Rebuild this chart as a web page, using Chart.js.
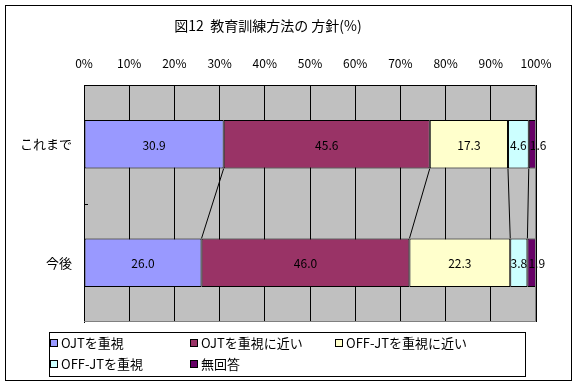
<!DOCTYPE html>
<html><head><meta charset="utf-8">
<script src="https://cdn.jsdelivr.net/npm/chart.js@4/dist/chart.umd.min.js"></script>
<style>html,body{margin:0;padding:0;background:#fff}canvas{display:block}</style>
</head><body>
<canvas id="c" width="578" height="386"></canvas>
<script>
const titleText = '図12  教育訓練方法の 方針(%)';
const categories = ['これまで', '今後'];
const seriesNames = ['OJTを重視', 'OJTを重視に近い', 'OFF-JTを重視に近い', 'OFF-JTを重視', '無回答'];
const seriesColors = ['#9999FF', '#993366', '#FFFFCC', '#CCFFFF', '#660066'];
const ojtJushi = [30.9, 26.0];
const ojtChikai = [45.6, 46.0];
const offChikai = [17.3, 22.3];
const offJushi = [4.6, 3.8];
const mukaito = [1.6, 1.9];
const seriesValues = [ojtJushi, ojtChikai, offChikai, offJushi, mukaito];
const xTicks = [0, 10, 20, 30, 40, 50, 60, 70, 80, 90, 100];

const FONT = "'Noto Sans CJK JP', sans-serif";

const bgPlugin = {
  id: 'bg',
  beforeDraw(chart) {
    const {ctx, chartArea: a} = chart;
    ctx.save();
    ctx.fillStyle = '#fff';
    ctx.fillRect(0, 0, chart.width, chart.height);
    ctx.fillStyle = '#C0C0C0';
    ctx.fillRect(a.left, a.top, a.right - a.left, a.bottom - a.top);
    ctx.restore();
  },
  afterDraw(chart) {
    const {ctx, chartArea: a} = chart;
    ctx.save();
    ctx.strokeStyle = '#808080';
    ctx.lineWidth = 1;
    ctx.beginPath();
    ctx.moveTo(a.right - 0.5, a.top);
    ctx.lineTo(a.right - 0.5, a.bottom - 0.5);
    ctx.lineTo(a.left, a.bottom - 0.5);
    ctx.stroke();
    const ys = chart.scales.y;
    const yMid = (ys.getPixelForValue(0) + ys.getPixelForValue(1)) / 2;
    ctx.strokeStyle = '#000';
    ctx.beginPath();
    ctx.moveTo(a.left, Math.round(yMid) + 0.5);
    ctx.lineTo(a.left + 4, Math.round(yMid) + 0.5);
    ctx.stroke();
    ctx.strokeRect(5.5, 5.5, 566, 375);
    ctx.strokeRect(49.5, 332.5, 476, 44);
    const cols = [50, 190, 335];
    const rows = [343, 364];
    ctx.font = '13px ' + FONT;
    ctx.textBaseline = 'middle';
    ctx.textAlign = 'left';
    seriesNames.forEach((name, i) => {
      const cx = cols[i % 3], cy = rows[Math.floor(i / 3)];
      ctx.fillStyle = seriesColors[i];
      ctx.fillRect(cx + 0.5, cy - 3.5, 7, 7);
      ctx.strokeStyle = '#000';
      ctx.strokeRect(cx + 0.5, cy - 3.5, 7, 7);
      ctx.fillStyle = '#000';
      ctx.fillText(name, cx + 11, cy + 0.5);
    });
    ctx.restore();
  }
};

const seriesLinePlugin = {
  id: 'serieslines',
  afterDatasetsDraw(chart) {
    const ctx = chart.ctx;
    ctx.save();
    ctx.strokeStyle = '#000';
    ctx.lineWidth = 1;
    for (let d = 0; d < chart.data.datasets.length - 1; d++) {
      const els = chart.getDatasetMeta(d).data;
      const top = els[0], bot = els[1];
      ctx.beginPath();
      ctx.moveTo(top.x, top.y + top.height / 2);
      ctx.lineTo(bot.x, bot.y - bot.height / 2);
      ctx.stroke();
    }
    ctx.fillStyle = '#000';
    ctx.font = '12px ' + FONT;
    ctx.textBaseline = 'middle';
    chart.data.datasets.forEach((ds, d) => {
      chart.getDatasetMeta(d).data.forEach((el, i) => {
        const txt = ds.data[i].toFixed(1);
        const w = ctx.measureText(txt).width;
        const bw = Math.abs(el.x - el.base);
        if (w > bw) {
          ctx.textAlign = 'left';
          ctx.fillText(txt, Math.min(el.x, el.base) + 1, el.y + 1);
        } else {
          ctx.textAlign = 'center';
          ctx.fillText(txt, (el.x + el.base) / 2, el.y + 1);
        }
      });
    });
    ctx.restore();
  }
};

new Chart(document.getElementById('c'), {
  type: 'bar',
  data: {
    labels: categories,
    datasets: seriesNames.map((n, i) => ({
      label: n,
      data: seriesValues[i],
      backgroundColor: seriesColors[i],
      borderColor: '#000',
      borderWidth: 1,
      borderSkipped: false,
      barPercentage: 0.41,
      categoryPercentage: 1
    }))
  },
  options: {
    indexAxis: 'y',
    responsive: false,
    animation: false,
    devicePixelRatio: 1,
    layout: { padding: { left: 0, top: 0, right: 42, bottom: 64 } },
    plugins: {
      legend: { display: false },
      tooltip: { enabled: false },
      title: {
        display: true,
        text: titleText,
        color: '#000',
        font: { family: FONT, size: 14, weight: 'normal', lineHeight: 1.2 },
        padding: { top: 17, bottom: 0 }
      }
    },
    scales: {
      x: {
        type: 'linear',
        position: 'top',
        stacked: true,
        min: 0, max: 100,
        afterBuildTicks(scale) { scale.ticks = xTicks.map(v => ({ value: v })); },
        afterFit(scale) { scale.height = 85 - 33.8; },
        ticks: {
          color: '#000',
          padding: 14,
          font: { family: FONT, size: 12 },
          callback: v => v + '%',
          maxRotation: 0
        },
        grid: { color: '#000', drawTicks: false, tickLength: 0 },
        border: { color: '#000', width: 1 }
      },
      y: {
        stacked: true,
        afterFit(scale) { scale.width = 84; },
        ticks: {
          color: '#000',
          padding: 12,
          font: { family: FONT, size: 13 }
        },
        grid: { display: false, drawTicks: false },
        border: { color: '#000', width: 1 }
      }
    }
  },
  plugins: [bgPlugin, seriesLinePlugin]
});
</script>
</body></html>
